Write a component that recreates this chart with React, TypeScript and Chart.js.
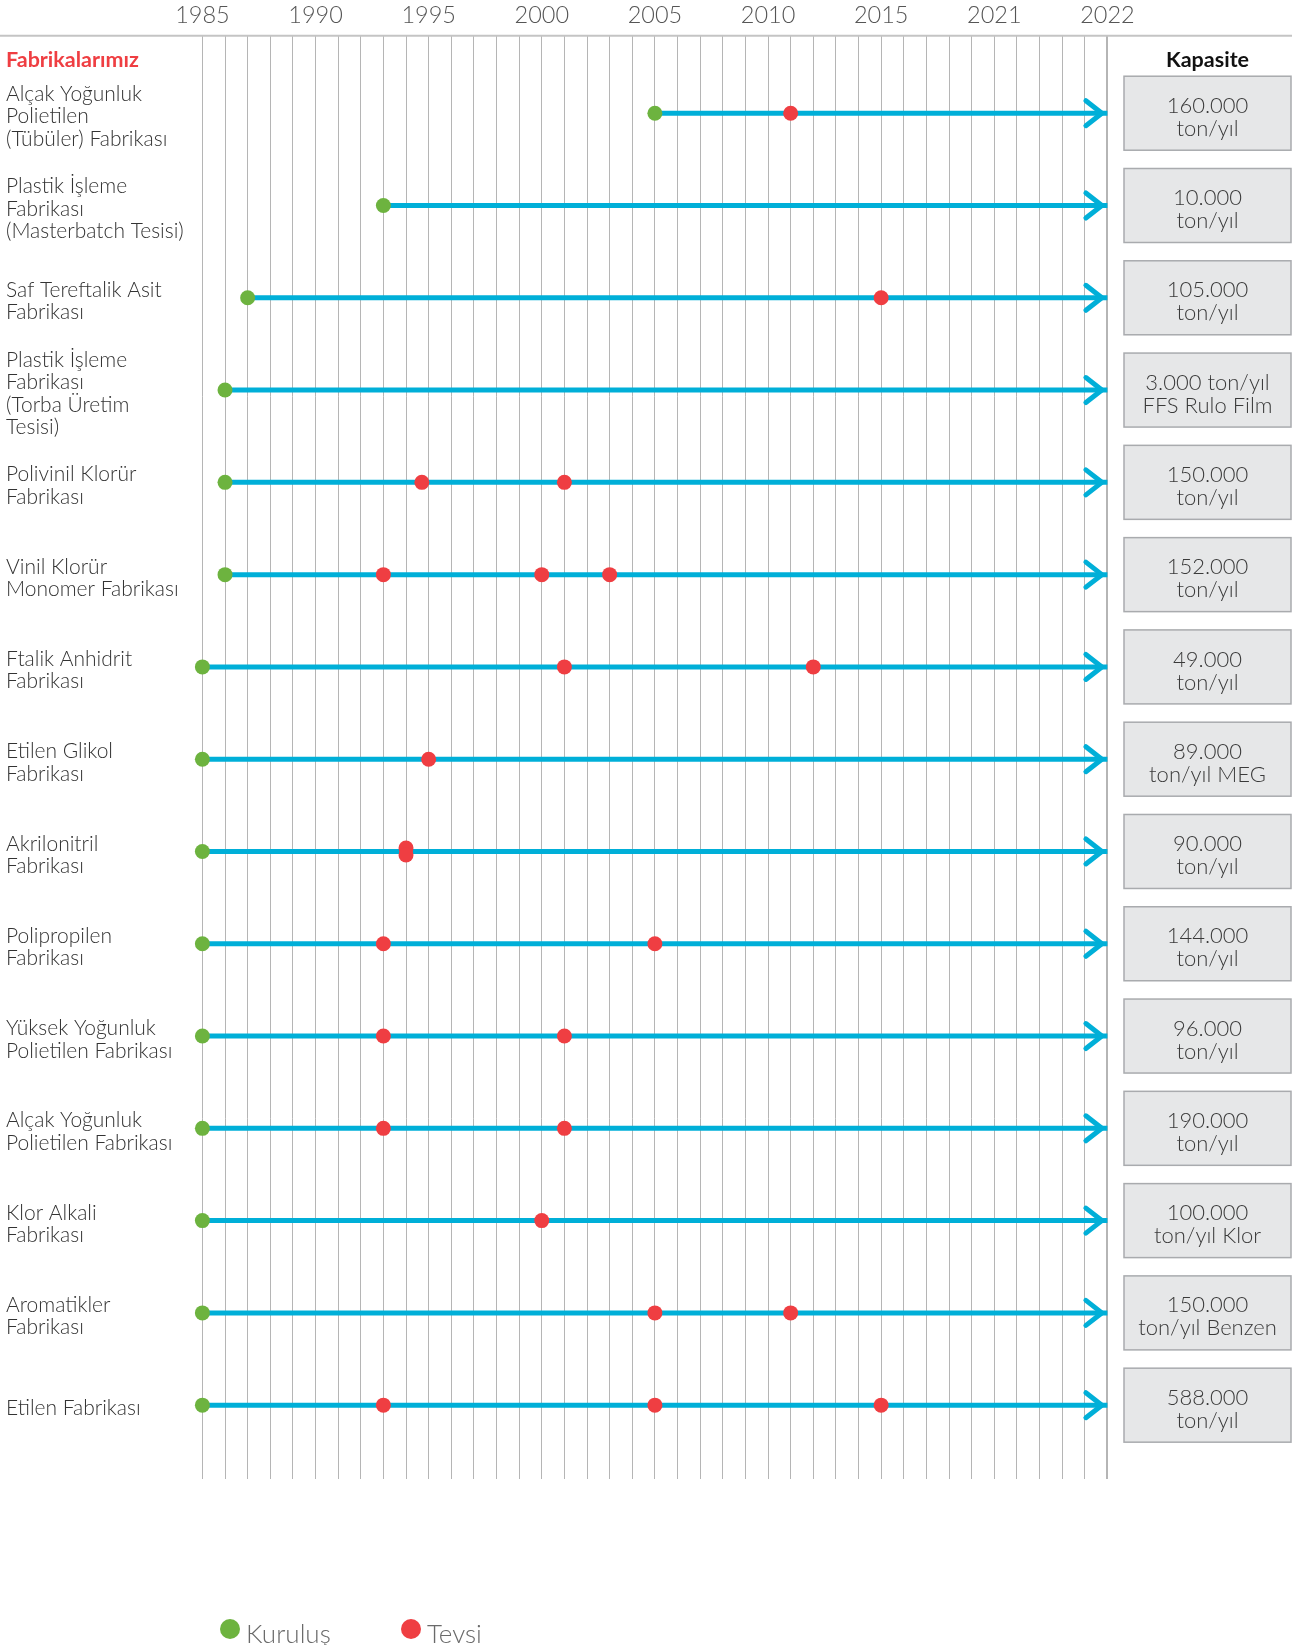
import React, { useEffect, useRef } from "react";
import { Chart, registerables } from "chart.js";

Chart.register(...registerables);

// ---- data ----
const factories: string[][] = [
  ["Alçak Yoğunluk", "Polietilen", "(Tübüler) Fabrikası"],
  ["Plastik İşleme", "Fabrikası", "(Masterbatch Tesisi)"],
  ["Saf Tereftalik Asit", "Fabrikası"],
  ["Plastik İşleme", "Fabrikası", "(Torba Üretim", "Tesisi)"],
  ["Polivinil Klorür", "Fabrikası"],
  ["Vinil Klorür", "Monomer Fabrikası"],
  ["Ftalik Anhidrit", "Fabrikası"],
  ["Etilen Glikol", "Fabrikası"],
  ["Akrilonitril", "Fabrikası"],
  ["Polipropilen", "Fabrikası"],
  ["Yüksek Yoğunluk", "Polietilen Fabrikası"],
  ["Alçak Yoğunluk", "Polietilen Fabrikası"],
  ["Klor Alkali", "Fabrikası"],
  ["Aromatikler", "Fabrikası"],
  ["Etilen Fabrikası"],
];

const kurulus: number[] = [2005, 1993, 1987, 1986, 1986, 1986, 1985, 1985, 1985, 1985, 1985, 1985, 1985, 1985, 1985];

const tevsi: number[][] = [
  [2011],
  [],
  [2015],
  [],
  [1994.7, 2001],
  [1993, 2000, 2003],
  [2001, 2012],
  [1995],
  [1994, 1994],
  [1993, 2005],
  [1993, 2001],
  [1993, 2001],
  [2000],
  [2005, 2011],
  [1993, 2005, 2015],
];

const capacity: string[][] = [
  ["160.000", "ton/yıl"],
  ["10.000", "ton/yıl"],
  ["105.000", "ton/yıl"],
  ["3.000 ton/yıl", "FFS Rulo Film"],
  ["150.000", "ton/yıl"],
  ["152.000", "ton/yıl"],
  ["49.000", "ton/yıl"],
  ["89.000", "ton/yıl MEG"],
  ["90.000", "ton/yıl"],
  ["144.000", "ton/yıl"],
  ["96.000", "ton/yıl"],
  ["190.000", "ton/yıl"],
  ["100.000", "ton/yıl Klor"],
  ["150.000", "ton/yıl Benzen"],
  ["588.000", "ton/yıl"],
];

const tickPositions: number[] = [1985, 1990, 1995, 2000, 2005, 2010, 2015, 2020, 2025];
const tickLabels: string[] = ["1985", "1990", "1995", "2000", "2005", "2010", "2015", "2021", "2022"];
const axisStart = 1985;
const axisEnd = 2025;

const legendItems = [
  { label: "Kuruluş", color: "#6db33f" },
  { label: "Tevsi", color: "#ef3e42" },
];

// ---- style ----
const W = 1292;
const H = 1645;
const FONT = "Lato, 'Open Sans', sans-serif";
const CYAN = "#00afd8";
const GREEN = "#6db33f";
const RED = "#ef3e42";

export default function App() {
  const ref = useRef<HTMLCanvasElement>(null);

  useEffect(() => {
    document.body.style.margin = "0";
    const canvas = ref.current!;

    const lineDatasets: any[] = factories.map((_, i) => ({
      label: "line" + i,
      data: [
        { x: kurulus[i], y: i },
        { x: axisEnd, y: i },
      ],
      showLine: true,
      borderColor: CYAN,
      borderWidth: 5,
      borderCapStyle: "butt",
      pointRadius: 0,
      clip: false,
      order: 2,
    }));

    const greenData = kurulus.map((x, i) => ({ x, y: i }));
    const redData: { x: number; y: number }[] = [];
    tevsi.forEach((arr, i) => {
      arr.forEach((x, k) => {
        const dup = arr.filter((v) => v === x).length;
        const idx = arr.slice(0, k).filter((v) => v === x).length;
        const off = dup > 1 ? (idx - (dup - 1) / 2) * 0.075 : 0;
        redData.push({ x, y: i + off });
      });
    });

    const decor = {
      id: "decor",
      afterDatasetsDraw(chart: any) {
        const { ctx, scales } = chart;
        const xs = scales.x;
        const ys = scales.y;
        ctx.save();
        ctx.strokeStyle = CYAN;
        ctx.lineWidth = 5;
        ctx.lineCap = "round";
        ctx.lineJoin = "miter";
        factories.forEach((_, i) => {
          const tx = xs.getPixelForValue(axisEnd) - 5.5;
          const ty = ys.getPixelForValue(i);
          ctx.beginPath();
          ctx.moveTo(tx - 16, ty - 12.5);
          ctx.lineTo(tx, ty);
          ctx.lineTo(tx - 16, ty + 12.5);
          ctx.stroke();
        });
        ctx.restore();
      },
      afterDraw(chart: any) {
        const { ctx, scales, chartArea } = chart;
        const ys = scales.y;
        ctx.save();
        // top rule
        ctx.strokeStyle = "#c4c4c4";
        ctx.lineWidth = 2;
        ctx.beginPath();
        ctx.moveTo(0, chartArea.top);
        ctx.lineTo(W, chartArea.top);
        ctx.stroke();

        // headers
        ctx.textBaseline = "middle";
        ctx.font = `bold 21.5px ${FONT}`;
        ctx.fillStyle = RED;
        ctx.textAlign = "left";
        ctx.fillText("Fabrikalarımız", 6, 60);
        ctx.fillStyle = "#111";
        ctx.textAlign = "center";
        const boxL = chartArea.right + 16.6;
        const boxR = W - 1;
        const cx = (boxL + boxR) / 2;
        ctx.fillText("Kapasite", cx, 60);

        // capacity boxes
        capacity.forEach((lines, i) => {
          const cy = ys.getPixelForValue(i);
          const bh = 74;
          ctx.fillStyle = "#e6e7e8";
          ctx.fillRect(boxL, cy - bh / 2, boxR - boxL, bh);
          ctx.strokeStyle = "#a9abae";
          ctx.lineWidth = 1.5;
          ctx.strokeRect(boxL, cy - bh / 2, boxR - boxL, bh);
          ctx.fillStyle = "#3a3a3a";
          ctx.font = `300 22px ${FONT}`;
          ctx.textAlign = "center";
          const lh = 23;
          lines.forEach((t, k) => {
            ctx.fillText(t, cx, cy + 4 + (k - (lines.length - 1) / 2) * lh);
          });
        });

        // legend
        const ly = 1629;
        const lx = [230, 411];
        legendItems.forEach((it, k) => {
          ctx.fillStyle = it.color;
          ctx.beginPath();
          ctx.arc(lx[k], ly, 10, 0, Math.PI * 2);
          ctx.fill();
          ctx.fillStyle = "#6a6a6a";
          ctx.font = `300 26px ${FONT}`;
          ctx.textAlign = "left";
          ctx.textBaseline = "alphabetic";
          ctx.fillText(it.label, lx[k] + 16, 1643);
        });
        ctx.restore();
      },
    };

    const chart = new Chart(canvas, {
      type: "scatter",
      data: {
        datasets: [
          {
            label: "Kuruluş",
            data: greenData,
            backgroundColor: GREEN,
            borderWidth: 0,
            pointRadius: 7.5,
            showLine: false,
            clip: false,
            order: 0,
          } as any,
          {
            label: "Tevsi",
            data: redData,
            backgroundColor: RED,
            borderWidth: 0,
            pointRadius: 7.5,
            showLine: false,
            clip: false,
            order: 1,
          } as any,
          ...lineDatasets,
        ],
      },
      options: {
        animation: false,
        responsive: false,
        maintainAspectRatio: false,
        events: [],
        layout: { padding: { left: 6, right: 184.6, top: 0, bottom: 166 } },
        plugins: {
          legend: { display: false },
          tooltip: { enabled: false },
        },
        scales: {
          x: {
            type: "linear",
            position: "top",
            min: axisStart,
            max: axisEnd,
            afterBuildTicks: (s: any) => {
              const t = [];
              for (let v = axisStart; v <= axisEnd; v++) t.push({ value: v });
              s.ticks = t;
            },
            afterFit: (s: any) => {
              s.height = 35.7;
            },
            ticks: {
              autoSkip: false,
              maxRotation: 0,
              minRotation: 0,
              padding: 6,
              color: "#555",
              font: { family: FONT, size: 23.5, weight: "300" as any },
              callback: (v: any) => {
                const idx = tickPositions.indexOf(Number(v));
                return idx >= 0 ? tickLabels[idx] : "";
              },
            },
            grid: {
              color: "#b5b5b5",
              lineWidth: (c: any) => (c.index === axisEnd - axisStart ? 2 : 1),
              drawTicks: false,
            },
            border: { display: false },
          },
          y: {
            type: "linear",
            reverse: true,
            min: -0.84,
            max: 14.8,
            afterBuildTicks: (s: any) => {
              s.ticks = factories.map((_, i) => ({ value: i }));
            },
            afterFit: (s: any) => {
              s.width = 196.4;
            },
            ticks: {
              crossAlign: "far",
              padding: 0,
              labelOffset: 3.5,
              color: "#333",
              font: { family: FONT, size: 21, weight: "300" as any, lineHeight: 1.07 },
              callback: (v: any) => factories[Number(v)] as any,
            },
            grid: { display: false },
            border: { display: false },
          },
        },
      },
      plugins: [decor],
    });

    return () => chart.destroy();
  }, []);

  return (
    <div style={{ width: W, height: H }}>
      <canvas ref={ref} width={W} height={H} style={{ display: "block" }} />
    </div>
  );
}
